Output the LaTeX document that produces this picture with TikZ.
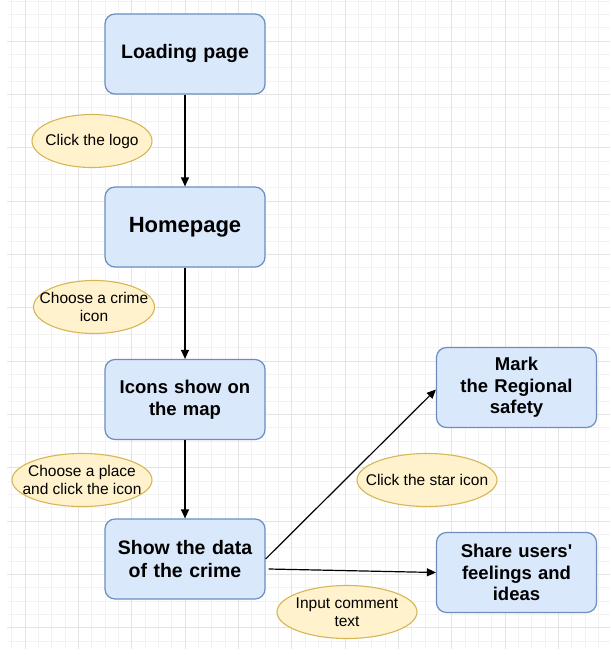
\documentclass[tikz,border=0pt]{standalone}
\usepackage{fontspec}
\setmainfont{Liberation Sans}
\usetikzlibrary{arrows.meta,shapes.geometric}
\definecolor{boxfill}{HTML}{DAE8FC}
\definecolor{boxline}{HTML}{6C8EBF}
\definecolor{ellfill}{HTML}{FFF2CC}
\definecolor{ellline}{HTML}{D6B656}
\definecolor{gridminor}{HTML}{F2F2F2}
\definecolor{gridmajor}{HTML}{E4E4E4}
\tikzset{
  stepbox/.style={draw=boxline, fill=boxfill, line width=1.2pt, rounded corners=10pt,
    minimum width=160pt, minimum height=80pt, inner sep=0pt, align=center,
    text width=150pt, font=\bfseries\fontsize{18.5}{21.5}\selectfont},
  label ellipse/.style={ellipse, draw=ellline, fill=ellfill, line width=1.1pt,
    inner xsep=-20pt, inner ysep=0pt, align=center, font=\fontsize{15.5}{18}\selectfont},
  flow/.style={line width=1.2pt, -{Triangle[length=9pt,width=8pt]}},
}
\begin{document}
\begin{tikzpicture}[x=1pt,y=-1pt]
\useasboundingbox (0,0) rectangle (610,658);
\fill[white] (0,0) rectangle (610,658);
% grid
\foreach \i in {0,...,45} {
  \pgfmathsetmacro{\gx}{25+13.333*(\i-1)}
  \ifdim\gx pt>7pt \draw[gridminor, line width=0.6pt] (\gx,0) -- (\gx,649); \fi
}
\foreach \i in {0,...,48} {
  \pgfmathsetmacro{\gy}{1+13.333*\i}
  \ifdim\gy pt<649pt \draw[gridminor, line width=0.6pt] (7,\gy) -- (610,\gy); \fi
}
\foreach \i in {0,...,11} {
  \pgfmathsetmacro{\gx}{25+53.333*\i}
  \draw[gridmajor, line width=0.9pt] (\gx,0) -- (\gx,649);
}
\foreach \i in {0,...,11} {
  \pgfmathsetmacro{\gy}{41+53.333*\i}
  \ifdim\gy pt<649pt \draw[gridmajor, line width=0.9pt] (7,\gy) -- (610,\gy); \fi
}
% boxes
\node[stepbox, font=\bfseries\fontsize{19.5}{22}\selectfont] (load) at (185,54) {Loading page};
\node[stepbox, font=\bfseries\fontsize{22}{25}\selectfont] (home) at (185,227) {Homepage};
\node[stepbox] (icons) at (185,399.5) {Icons show on\\the map};
\node[stepbox, font=\bfseries\fontsize{19.5}{22.5}\selectfont] (show) at (185,559) {Show the data\\of the crime};
\node[stepbox] (mark) at (516.5,387.5) {Mark\\the Regional\\safety};
\node[stepbox] (share) at (516.5,572.5) {Share users\textquotesingle\\feelings and\\ideas};
% ellipses
\node[label ellipse, minimum width=120pt, minimum height=53pt] (e1) at (92,141) {Click the logo};
\node[label ellipse, minimum width=121pt, minimum height=53pt] (e2) at (94,307) {Choose a crime\\icon};
\node[label ellipse, minimum width=140pt, minimum height=53pt] (e3) at (82,480) {Choose a place\\and click the icon};
\node[label ellipse, minimum width=140pt, minimum height=53pt] (e4) at (427,480) {Click the star icon};
\node[label ellipse, minimum width=140pt, minimum height=53pt] (e5) at (347,612) {Input comment\\text};
% connectors
\draw[flow] (load) -- (home);
\draw[flow] (home) -- (icons);
\draw[flow] (icons) -- (show);
\draw[flow] (show.east) -- ([yshift=-2pt]mark.west);
\draw[flow] ([xshift=3pt,yshift=-10pt]show.east) -- (share.west);
\end{tikzpicture}
\end{document}
